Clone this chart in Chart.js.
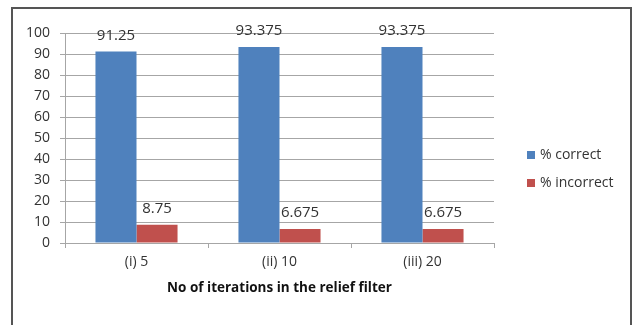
<!DOCTYPE html>
<html>
<head>
<meta charset="utf-8">
<script src="https://cdn.jsdelivr.net/npm/chart.js@4.4.1/dist/chart.umd.min.js"></script>
<style>
  html, body { margin: 0; padding: 0; background: #fff; overflow: hidden; }
  #wrap { position: relative; width: 635px; height: 325px; }
  #frame {
    position: absolute; left: 11px; top: 7px; width: 617px; height: 330px;
    border: 2px solid #555; border-bottom: none; pointer-events: none;
  }
  canvas { position: absolute; left: 0; top: 0; }
</style>
</head>
<body>
<div id="wrap">
  <canvas id="c" width="635" height="325"></canvas>
  <div id="frame"></div>
</div>
<script>
// Iteration settings of the relief filter and classification results
const categories = ['(i) 5', '(ii) 10', '(iii) 20'];
const pctCorrect = [91.25, 93.375, 93.375];
const pctIncorrect = [8.75, 6.675, 6.675];
const yTicks = [0, 10, 20, 30, 40, 50, 60, 70, 80, 90, 100];
const xTitle = 'No of iterations in the relief filter';

const FONT = "'Open Sans', sans-serif";
const TEXT = '#333333';
const GRID = '#a6a6a6';

// Value labels above each bar
const valueLabels = {
  id: 'valueLabels',
  afterDatasetsDraw(chart) {
    const ctx = chart.ctx;
    ctx.save();
    ctx.font = '15px ' + FONT;
    ctx.fillStyle = TEXT;
    ctx.textAlign = 'center';
    ctx.textBaseline = 'middle';
    chart.data.datasets.forEach((ds, i) => {
      chart.getDatasetMeta(i).data.forEach((bar, j) => {
        ctx.fillText(String(ds.data[j]), bar.x, bar.y - 16);
      });
    });
    ctx.restore();
  }
};

// Vertical legend on the right side
const sideLegend = {
  id: 'sideLegend',
  afterDraw(chart) {
    const ctx = chart.ctx;
    ctx.save();
    ctx.font = '14px ' + FONT;
    ctx.textAlign = 'left';
    ctx.textBaseline = 'middle';
    chart.data.datasets.forEach((ds, i) => {
      const y = 155 + i * 28;
      ctx.fillStyle = ds.backgroundColor;
      ctx.fillRect(527, y - 4, 8, 8);
      ctx.fillStyle = TEXT;
      ctx.fillText(ds.label, 540, y);
    });
    ctx.restore();
  }
};

new Chart(document.getElementById('c'), {
  type: 'bar',
  data: {
    labels: categories,
    datasets: [
      { label: '% correct', data: pctCorrect, backgroundColor: '#4f81bd' },
      { label: '% incorrect', data: pctIncorrect, backgroundColor: '#c0504d' }
    ]
  },
  options: {
    responsive: false,
    animation: false,
    devicePixelRatio: 1,
    layout: { padding: { left: 0, right: 141, top: 33, bottom: 29 } },
    datasets: { bar: { categoryPercentage: 0.574, barPercentage: 1.0 } },
    plugins: { legend: { display: false }, tooltip: { enabled: false } },
    scales: {
      x: {
        afterFit(scale) { scale.height = 53; },
        grid: { offset: true, drawOnChartArea: false, drawTicks: true, tickLength: 5, color: GRID },
        border: { color: GRID },
        ticks: { color: TEXT, font: { family: FONT, size: 14 }, padding: 6 },
        title: {
          display: true, text: xTitle, color: '#111',
          font: { family: FONT, size: 13.5, weight: 'bold' },
          padding: { top: 4, bottom: 0 }
        }
      },
      y: {
        min: 0, max: 100,
        afterFit(scale) { scale.width = 65; },
        afterBuildTicks(scale) { scale.ticks = yTicks.map(v => ({ value: v })); },
        grid: { color: GRID, tickLength: 5 },
        border: { color: GRID },
        ticks: { color: TEXT, font: { family: FONT, size: 14 }, padding: 10 }
      }
    }
  },
  plugins: [valueLabels, sideLegend]
});
</script>
</body>
</html>
